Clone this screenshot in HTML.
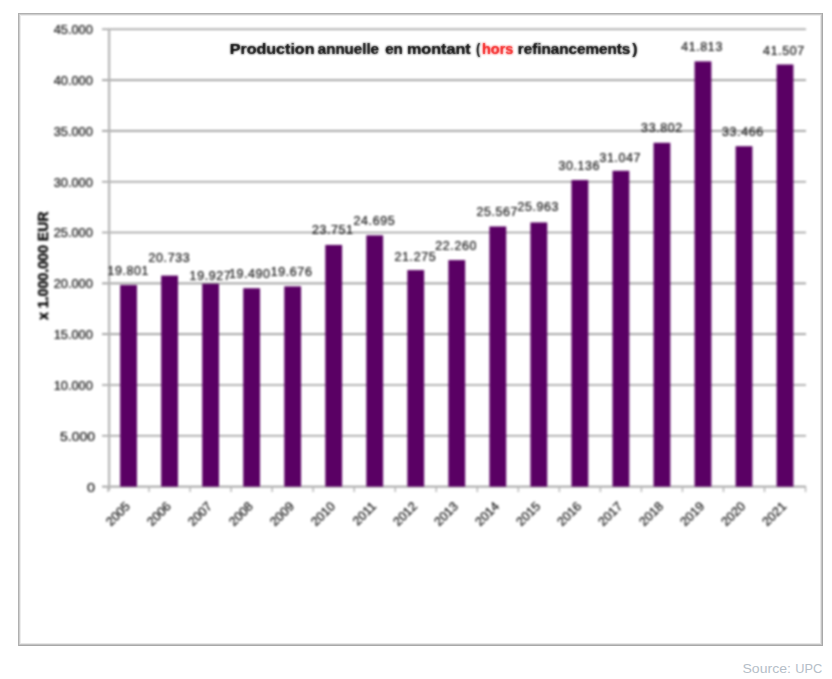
<!DOCTYPE html>
<html><head><meta charset="utf-8"><title>Production annuelle en montant</title>
<style>
html,body{margin:0;padding:0;background:#fff;}
body{width:832px;height:679px;overflow:hidden;position:relative;font-family:"Liberation Sans",sans-serif;}
svg{position:absolute;left:0;top:0;}
svg text{font-family:"Liberation Sans",sans-serif;}
.chart{filter:blur(1px);}
.sharp{opacity:0.45;}
.lb{fill:#151515;stroke:#151515;stroke-width:0.22px;}
</style></head><body>
<svg class="frame" width="832" height="679" viewBox="0 0 832 679">
<g shape-rendering="crispEdges">
<rect x="18" y="13" width="805" height="1" fill="#b0b0b0"/>
<rect x="18" y="645" width="805" height="1" fill="#a8a8a8"/>
<rect x="18" y="13" width="1" height="633" fill="#b0b0b0"/>
<rect x="822" y="13" width="1" height="633" fill="#a8a8a8"/>
<rect x="19" y="14" width="803" height="1" fill="#cdcdcd"/>
<rect x="19" y="14" width="1" height="631" fill="#cdcdcd"/>
<rect x="19" y="644" width="803" height="1" fill="#c4c4c4"/>
<rect x="821" y="14" width="1" height="631" fill="#c4c4c4"/>
<rect x="20" y="15" width="801" height="1" fill="#ececec"/>
<rect x="20" y="15" width="1" height="629" fill="#ececec"/>
<rect x="20" y="643" width="801" height="1" fill="#e6e6e6"/>
<rect x="820" y="15" width="1" height="629" fill="#e6e6e6"/>
</g>
<text x="742.5" y="673.1" font-size="12" fill="#b5bec8" textLength="48.4" lengthAdjust="spacingAndGlyphs">Source:</text>
<text x="795.3" y="673.1" font-size="12" fill="#b5bec8" textLength="27.0" lengthAdjust="spacingAndGlyphs">UPC</text>
</svg>
<svg class="chart" width="832" height="679" viewBox="0 0 832 679">
<line x1="102" y1="486.60" x2="806" y2="486.60" stroke="#9c9c9c" stroke-width="1.6"/>
<line x1="102" y1="435.79" x2="806" y2="435.79" stroke="#9c9c9c" stroke-width="1.6"/>
<line x1="102" y1="384.98" x2="806" y2="384.98" stroke="#9c9c9c" stroke-width="1.6"/>
<line x1="102" y1="334.17" x2="806" y2="334.17" stroke="#9c9c9c" stroke-width="1.6"/>
<line x1="102" y1="283.36" x2="806" y2="283.36" stroke="#9c9c9c" stroke-width="1.6"/>
<line x1="102" y1="232.54" x2="806" y2="232.54" stroke="#9c9c9c" stroke-width="1.6"/>
<line x1="102" y1="181.73" x2="806" y2="181.73" stroke="#9c9c9c" stroke-width="1.6"/>
<line x1="102" y1="130.92" x2="806" y2="130.92" stroke="#9c9c9c" stroke-width="1.6"/>
<line x1="102" y1="80.11" x2="806" y2="80.11" stroke="#9c9c9c" stroke-width="1.6"/>
<line x1="102" y1="29.30" x2="806" y2="29.30" stroke="#9c9c9c" stroke-width="1.6"/>
<line x1="109.1" y1="28.50" x2="109.1" y2="490.60" stroke="#b5b5b5" stroke-width="2.2"/>
<line x1="108.04" y1="486.60" x2="108.04" y2="492.10" stroke="#b5b5b5" stroke-width="1.5"/>
<line x1="149.06" y1="486.60" x2="149.06" y2="492.10" stroke="#b5b5b5" stroke-width="1.5"/>
<line x1="190.10" y1="486.60" x2="190.10" y2="492.10" stroke="#b5b5b5" stroke-width="1.5"/>
<line x1="231.12" y1="486.60" x2="231.12" y2="492.10" stroke="#b5b5b5" stroke-width="1.5"/>
<line x1="272.16" y1="486.60" x2="272.16" y2="492.10" stroke="#b5b5b5" stroke-width="1.5"/>
<line x1="313.19" y1="486.60" x2="313.19" y2="492.10" stroke="#b5b5b5" stroke-width="1.5"/>
<line x1="354.22" y1="486.60" x2="354.22" y2="492.10" stroke="#b5b5b5" stroke-width="1.5"/>
<line x1="395.25" y1="486.60" x2="395.25" y2="492.10" stroke="#b5b5b5" stroke-width="1.5"/>
<line x1="436.28" y1="486.60" x2="436.28" y2="492.10" stroke="#b5b5b5" stroke-width="1.5"/>
<line x1="477.31" y1="486.60" x2="477.31" y2="492.10" stroke="#b5b5b5" stroke-width="1.5"/>
<line x1="518.34" y1="486.60" x2="518.34" y2="492.10" stroke="#b5b5b5" stroke-width="1.5"/>
<line x1="559.37" y1="486.60" x2="559.37" y2="492.10" stroke="#b5b5b5" stroke-width="1.5"/>
<line x1="600.39" y1="486.60" x2="600.39" y2="492.10" stroke="#b5b5b5" stroke-width="1.5"/>
<line x1="641.42" y1="486.60" x2="641.42" y2="492.10" stroke="#b5b5b5" stroke-width="1.5"/>
<line x1="682.46" y1="486.60" x2="682.46" y2="492.10" stroke="#b5b5b5" stroke-width="1.5"/>
<line x1="723.49" y1="486.60" x2="723.49" y2="492.10" stroke="#b5b5b5" stroke-width="1.5"/>
<line x1="764.51" y1="486.60" x2="764.51" y2="492.10" stroke="#b5b5b5" stroke-width="1.5"/>
<line x1="805.54" y1="486.60" x2="805.54" y2="492.10" stroke="#b5b5b5" stroke-width="1.5"/>
<rect x="120.15" y="285.08" width="16.80" height="201.52" fill="#5a0064"/>
<rect x="161.18" y="275.61" width="16.80" height="210.99" fill="#5a0064"/>
<rect x="202.21" y="283.80" width="16.80" height="202.80" fill="#5a0064"/>
<rect x="243.24" y="288.24" width="16.80" height="198.36" fill="#5a0064"/>
<rect x="284.27" y="286.35" width="16.80" height="200.25" fill="#5a0064"/>
<rect x="325.30" y="244.94" width="16.80" height="241.66" fill="#5a0064"/>
<rect x="366.33" y="235.34" width="16.80" height="251.26" fill="#5a0064"/>
<rect x="407.36" y="270.10" width="16.80" height="216.50" fill="#5a0064"/>
<rect x="448.39" y="260.09" width="16.80" height="226.51" fill="#5a0064"/>
<rect x="489.42" y="226.48" width="16.80" height="260.12" fill="#5a0064"/>
<rect x="530.45" y="222.46" width="16.80" height="264.14" fill="#5a0064"/>
<rect x="571.48" y="180.05" width="16.80" height="306.55" fill="#5a0064"/>
<rect x="612.51" y="170.79" width="16.80" height="315.81" fill="#5a0064"/>
<rect x="653.54" y="142.80" width="16.80" height="343.80" fill="#5a0064"/>
<rect x="694.57" y="61.39" width="16.80" height="425.21" fill="#5a0064"/>
<rect x="735.60" y="146.21" width="16.80" height="340.39" fill="#5a0064"/>
<rect x="776.63" y="64.50" width="16.80" height="422.10" fill="#5a0064"/>
<text class="lb" x="107.4" y="274.8" font-size="12.4" textLength="41.1" lengthAdjust="spacing">19.801</text>
<text class="lb" x="148.5" y="261.7" font-size="12.4" textLength="41.1" lengthAdjust="spacing">20.733</text>
<text class="lb" x="189.6" y="279.9" font-size="12.4" textLength="41.1" lengthAdjust="spacing">19.927</text>
<text class="lb" x="228.9" y="277.9" font-size="12.4" textLength="41.1" lengthAdjust="spacing">19.490</text>
<text class="lb" x="270.7" y="275.8" font-size="12.4" textLength="41.1" lengthAdjust="spacing">19.676</text>
<text class="lb" x="311.9" y="234.3" font-size="12.4" textLength="41.1" lengthAdjust="spacing">23.751</text>
<text class="lb" x="353.5" y="224.9" font-size="12.4" textLength="41.1" lengthAdjust="spacing">24.695</text>
<text class="lb" x="394.5" y="260.7" font-size="12.4" textLength="41.1" lengthAdjust="spacing">21.275</text>
<text class="lb" x="435.3" y="249.8" font-size="12.4" textLength="41.1" lengthAdjust="spacing">22.260</text>
<text class="lb" x="476.4" y="216.2" font-size="12.4" textLength="41.1" lengthAdjust="spacing">25.567</text>
<text class="lb" x="517.4" y="211.2" font-size="12.4" textLength="41.1" lengthAdjust="spacing">25.963</text>
<text class="lb" x="558.4" y="169.7" font-size="12.4" textLength="41.1" lengthAdjust="spacing">30.136</text>
<text class="lb" x="599.4" y="161.8" font-size="12.4" textLength="41.1" lengthAdjust="spacing">31.047</text>
<text class="lb" x="641.1" y="131.7" font-size="12.4" textLength="41.1" lengthAdjust="spacing">33.802</text>
<text class="lb" x="681.2" y="51.3" font-size="12.4" textLength="41.1" lengthAdjust="spacing">41.813</text>
<text class="lb" x="722.0" y="135.8" font-size="12.4" textLength="41.1" lengthAdjust="spacing">33.466</text>
<text class="lb" x="763.1" y="55.1" font-size="12.4" textLength="41.1" lengthAdjust="spacing">41.507</text>
<text class="lb" x="86.9" y="491.6" font-size="12.8" textLength="8.0" lengthAdjust="spacingAndGlyphs">0</text>
<text class="lb" x="60.0" y="440.8" font-size="12.8" textLength="35.0" lengthAdjust="spacingAndGlyphs">5.000</text>
<text class="lb" x="92.8" y="389.8" font-size="12.8" text-anchor="end">10.000</text>
<text class="lb" x="92.8" y="339.0" font-size="12.8" text-anchor="end">15.000</text>
<text class="lb" x="92.8" y="288.2" font-size="12.8" text-anchor="end">20.000</text>
<text class="lb" x="92.8" y="237.3" font-size="12.8" text-anchor="end">25.000</text>
<text class="lb" x="92.8" y="186.5" font-size="12.8" text-anchor="end">30.000</text>
<text class="lb" x="92.8" y="135.7" font-size="12.8" text-anchor="end">35.000</text>
<text class="lb" x="92.8" y="84.9" font-size="12.8" text-anchor="end">40.000</text>
<text class="lb" x="92.8" y="34.1" font-size="12.8" text-anchor="end">45.000</text>
<text class="lb" x="130.8" y="507" font-size="12.6" text-anchor="end" transform="rotate(-45 130.8 507)">2005</text>
<text class="lb" x="171.8" y="507" font-size="12.6" text-anchor="end" transform="rotate(-45 171.8 507)">2006</text>
<text class="lb" x="212.8" y="507" font-size="12.6" text-anchor="end" transform="rotate(-45 212.8 507)">2007</text>
<text class="lb" x="253.8" y="507" font-size="12.6" text-anchor="end" transform="rotate(-45 253.8 507)">2008</text>
<text class="lb" x="294.9" y="507" font-size="12.6" text-anchor="end" transform="rotate(-45 294.9 507)">2009</text>
<text class="lb" x="335.9" y="507" font-size="12.6" text-anchor="end" transform="rotate(-45 335.9 507)">2010</text>
<text class="lb" x="376.9" y="507" font-size="12.6" text-anchor="end" transform="rotate(-45 376.9 507)">2011</text>
<text class="lb" x="418.0" y="507" font-size="12.6" text-anchor="end" transform="rotate(-45 418.0 507)">2012</text>
<text class="lb" x="459.0" y="507" font-size="12.6" text-anchor="end" transform="rotate(-45 459.0 507)">2013</text>
<text class="lb" x="500.0" y="507" font-size="12.6" text-anchor="end" transform="rotate(-45 500.0 507)">2014</text>
<text class="lb" x="541.1" y="507" font-size="12.6" text-anchor="end" transform="rotate(-45 541.1 507)">2015</text>
<text class="lb" x="582.1" y="507" font-size="12.6" text-anchor="end" transform="rotate(-45 582.1 507)">2016</text>
<text class="lb" x="623.1" y="507" font-size="12.6" text-anchor="end" transform="rotate(-45 623.1 507)">2017</text>
<text class="lb" x="664.1" y="507" font-size="12.6" text-anchor="end" transform="rotate(-45 664.1 507)">2018</text>
<text class="lb" x="705.2" y="507" font-size="12.6" text-anchor="end" transform="rotate(-45 705.2 507)">2019</text>
<text class="lb" x="746.2" y="507" font-size="12.6" text-anchor="end" transform="rotate(-45 746.2 507)">2020</text>
<text class="lb" x="787.2" y="507" font-size="12.6" text-anchor="end" transform="rotate(-45 787.2 507)">2021</text>
<text x="0" y="0" font-size="14.3" font-weight="bold" fill="#000" stroke="#000" stroke-width="0.35" transform="translate(48.3 320) rotate(-90)" textLength="108.6" lengthAdjust="spacingAndGlyphs">x 1.000.000 EUR</text>
<text x="229.7" y="54" font-size="13.8" font-weight="bold" fill="#000" stroke="#000" stroke-width="0.1" textLength="84.8" lengthAdjust="spacingAndGlyphs">Production</text>
<text x="317.8" y="54" font-size="13.8" font-weight="bold" fill="#000" stroke="#000" stroke-width="0.1" textLength="61.2" lengthAdjust="spacingAndGlyphs">annuelle</text>
<text x="385.2" y="54" font-size="13.8" font-weight="bold" fill="#000" stroke="#000" stroke-width="0.1" textLength="17.6" lengthAdjust="spacingAndGlyphs">en</text>
<text x="406.9" y="54" font-size="13.8" font-weight="bold" fill="#000" stroke="#000" stroke-width="0.1" textLength="63.8" lengthAdjust="spacingAndGlyphs">montant</text>
<text x="476.2" y="54" font-size="13.8" font-weight="bold" fill="#000" stroke="#000" stroke-width="0.1" textLength="3.9" lengthAdjust="spacingAndGlyphs">(</text>
<text x="482.0" y="54" font-size="13.8" font-weight="bold" fill="#f51515" stroke="#f51515" stroke-width="0.1" textLength="31.3" lengthAdjust="spacingAndGlyphs">hors</text>
<text x="517.8" y="54" font-size="13.8" font-weight="bold" fill="#000" stroke="#000" stroke-width="0.1" textLength="112.5" lengthAdjust="spacingAndGlyphs">refinancements</text>
<text x="632.3" y="54" font-size="13.8" font-weight="bold" fill="#000" stroke="#000" stroke-width="0.1" textLength="5.2" lengthAdjust="spacingAndGlyphs">)</text>
</svg>
<svg class="sharp" width="832" height="679" viewBox="0 0 832 679">
<text x="229.7" y="54" font-size="13.8" font-weight="bold" fill="#000" stroke="#000" stroke-width="0.1" textLength="84.8" lengthAdjust="spacingAndGlyphs">Production</text>
<text x="317.8" y="54" font-size="13.8" font-weight="bold" fill="#000" stroke="#000" stroke-width="0.1" textLength="61.2" lengthAdjust="spacingAndGlyphs">annuelle</text>
<text x="385.2" y="54" font-size="13.8" font-weight="bold" fill="#000" stroke="#000" stroke-width="0.1" textLength="17.6" lengthAdjust="spacingAndGlyphs">en</text>
<text x="406.9" y="54" font-size="13.8" font-weight="bold" fill="#000" stroke="#000" stroke-width="0.1" textLength="63.8" lengthAdjust="spacingAndGlyphs">montant</text>
<text x="476.2" y="54" font-size="13.8" font-weight="bold" fill="#000" stroke="#000" stroke-width="0.1" textLength="3.9" lengthAdjust="spacingAndGlyphs">(</text>
<text x="482.0" y="54" font-size="13.8" font-weight="bold" fill="#f51515" stroke="#f51515" stroke-width="0.1" textLength="31.3" lengthAdjust="spacingAndGlyphs">hors</text>
<text x="517.8" y="54" font-size="13.8" font-weight="bold" fill="#000" stroke="#000" stroke-width="0.1" textLength="112.5" lengthAdjust="spacingAndGlyphs">refinancements</text>
<text x="632.3" y="54" font-size="13.8" font-weight="bold" fill="#000" stroke="#000" stroke-width="0.1" textLength="5.2" lengthAdjust="spacingAndGlyphs">)</text>
</svg>
</body></html>
